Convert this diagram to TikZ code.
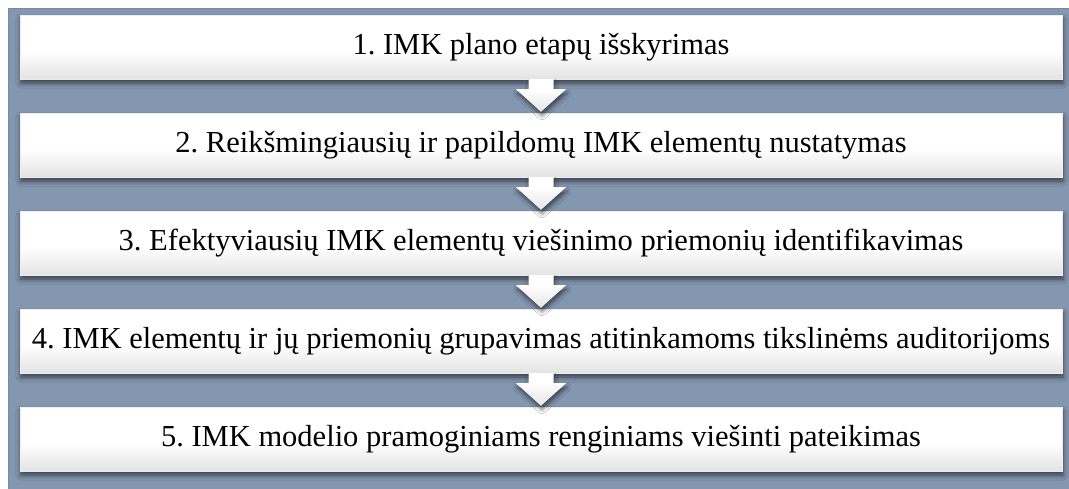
\documentclass[tikz,border=0pt]{standalone}
\usepackage{fontspec}
\setmainfont{Liberation Serif}
\usetikzlibrary{shadows.blur,calc}
\definecolor{bgslate}{HTML}{8497B0}
% white on the upper part, fading to light grey along the lower edge
\pgfdeclareverticalshading{boxfade}{100bp}{color(0bp)=(black!11); color(25bp)=(black!11); color(47bp)=(white); color(100bp)=(white)}
\pgfdeclareverticalshading{arrowfade}{100bp}{color(0bp)=(black!10); color(25bp)=(black!10); color(60bp)=(white); color(100bp)=(white)}
\frenchspacing
\begin{document}
\begin{tikzpicture}[x=1pt,y=-1pt,
  stepbox/.style={minimum width=1042pt, minimum height=64pt, inner sep=0pt,
    font=\fontsize{30.5}{34}\selectfont,
    shading=boxfade, draw=black!7, line width=0.4pt,
    blur shadow={shadow xshift=1pt, shadow yshift=-4pt,
      shadow blur radius=5pt, shadow opacity=60}},
  downarrow/.style={shading=arrowfade, draw=none,
    blur shadow={shadow xshift=1pt, shadow yshift=-4pt,
      shadow blur radius=4pt, shadow opacity=55}}]
  % canvas and backdrop
  \useasboundingbox (0,0) rectangle (1069,488);
  \fill[bgslate, draw=bgslate!92!black, line width=1pt] (8.5,8.5) rectangle (1070,489);

  % the five stages
  \node[stepbox] (b1) at (541,47)  {1. IMK plano etapų išskyrimas};
  \node[stepbox] (b2) at (541,145) {2. Reikšmingiausių ir papildomų IMK elementų nustatymas};
  \node[stepbox] (b3) at (541,243) {3. Efektyviausių IMK elementų viešinimo priemonių identifikavimas};
  \node[stepbox] (b4) at (541,341) {4. IMK elementų ir jų priemonių grupavimas atitinkamoms tikslinėms auditorijoms};
  \node[stepbox] (b5) at (541,439) {5. IMK modelio pramoginiams renginiams viešinti pateikimas};

  % block arrows between consecutive stages
  \foreach \a/\b in {b1/b2,b2/b3,b3/b4,b4/b5}{
    \path[downarrow]
      ($(\a.south)+(-12.5,0)$) -- ($(\a.south)+(-12.5,10)$)
      -- ($(\a.south)+(-25,10)$) -- ($(\b.north)+(0,-1)$)
      -- ($(\a.south)+(25,10)$) -- ($(\a.south)+(12.5,10)$)
      -- ($(\a.south)+(12.5,0)$) -- cycle;
  }
\end{tikzpicture}
\end{document}
